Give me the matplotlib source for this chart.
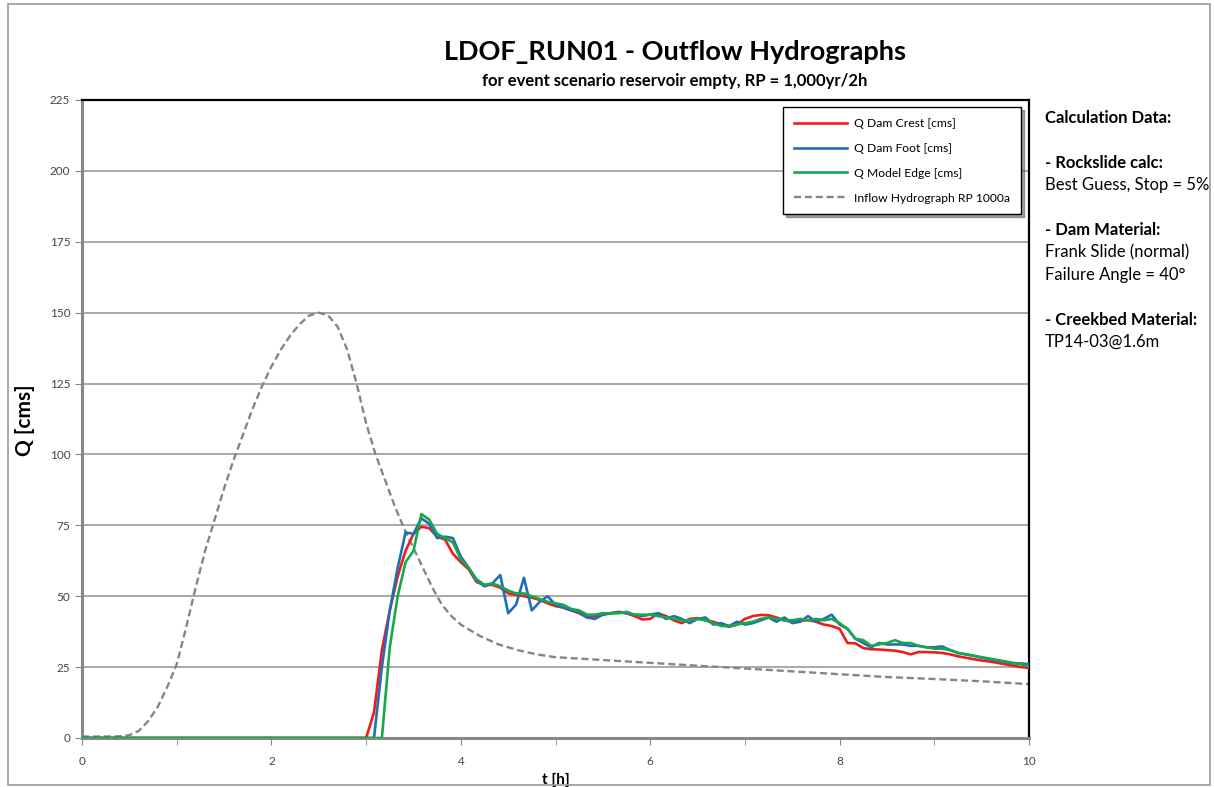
import numpy as np
import matplotlib
matplotlib.use("Agg")
import matplotlib.pyplot as plt
from matplotlib.patches import Rectangle

# inflow hydrograph RP 1000a
t_in = [0, 0.2, 0.4, 0.5, 0.6, 0.7, 0.8, 0.9, 1.0, 1.1, 1.2, 1.3, 1.4, 1.5, 1.6,
        1.7, 1.8, 1.9, 2.0, 2.1, 2.2, 2.3, 2.4, 2.5, 2.6, 2.7, 2.8, 2.9, 3.0,
        3.1, 3.2, 3.3, 3.4, 3.5, 3.6, 3.7, 3.8, 3.9, 4.0, 4.2, 4.4, 4.6, 4.8,
        5.0, 5.5, 6.0, 6.5, 7.0, 7.5, 8.0, 8.5, 9.0, 9.5, 10.0]
q_in = [0.5, 0.5, 0.6, 1, 2.5, 6, 11, 18, 26, 39, 53, 66, 77, 88, 98,
        107, 116, 124, 131, 137, 142, 146, 149, 150, 149, 145, 137, 125, 111,
        100, 91, 82, 74, 67, 60, 53, 47, 43, 40, 36, 33, 31, 29.5,
        28.5, 27.5, 26.5, 25.5, 24.5, 23.5, 22.5, 21.5, 20.8, 20, 19]

# outflow series, t = 0 then 3.0 h .. 10.0 h every 5 min
t_out = np.concatenate([[0.0], 3.0 + np.arange(85) / 12.0])

q_crest = [0,
           0, 9, 31, 45, 57, 66, 72, 74.5, 74, 71, 70, 65,
           62, 59.5, 55, 54, 54, 53, 51, 50.5, 50, 49.5, 48.7, 47.5,
           46.5, 46, 45, 44, 42.5, 43, 43.5, 44, 44.5, 44, 43, 41.8,
           42, 44, 43, 41.5, 40.5, 42, 42.3, 41.5, 41, 40, 39.2, 40,
           42, 43, 43.4, 43.3, 42.5, 41.5, 41, 41.3, 41.6, 41, 40, 39.5,
           38.5, 33.5, 33.4, 31.7, 31.3, 31.2, 31, 30.8, 30.3, 29.5, 30.3, 30.3,
           30.2, 30, 29.5, 28.8, 28.3, 27.8, 27.3, 27, 26.5, 26, 25.5, 25,
           24.7]

q_foot = [0,
          0, 0, 25, 45, 60, 72.5, 72, 77.5, 75.5, 70.5, 71, 70.5,
          64, 60, 55.5, 53.5, 54.5, 57.5, 44, 47, 56.5, 45, 48, 50,
          47, 46, 45, 44.5, 42.5, 42, 43.5, 44, 44.3, 44, 43.5, 43,
          43.5, 44, 42, 43, 42, 40.5, 42, 42.5, 40, 40.5, 39.5, 41,
          40, 40.5, 41.5, 42.5, 41, 42.5, 40.5, 41, 43, 41, 42, 43.5,
          40, 38.5, 35, 33.5, 32, 33.5, 33, 33, 33, 32.5, 32.5, 32,
          32, 32.3, 31, 30, 29.5, 29, 28.3, 27.8, 27.3, 26.8, 26.3, 26.3,
          26]

q_edge = [0,
          0, 0, 0, 32, 50, 62, 66, 79, 77, 72, 70.5, 69,
          63, 60, 56, 54, 54.5, 53.5, 52, 51, 51, 50, 49, 48,
          47.5, 47, 45.5, 45, 43.5, 43.5, 44, 44, 44, 44.5, 43.5, 43.5,
          43.5, 43, 42.5, 42, 41.5, 41.5, 42, 41.5, 40.5, 39.5, 39.5, 40,
          40.5, 41, 42, 42.5, 42, 41.5, 41.5, 42, 41.5, 42, 41.5, 42,
          40.5, 38.5, 35, 34.5, 32.5, 33, 33.5, 34.5, 33.5, 33.5, 32.5, 32,
          31.5, 31.5, 31, 30, 29.5, 29, 28.5, 28, 27.5, 27, 26.5, 26,
          25.3]

info_lines = [
    ("Calculation Data:", True),
    ("", False),
    ("- Rockslide calc:", True),
    ("Best Guess, Stop = 5%", False),
    ("", False),
    ("- Dam Material:", True),
    ("Frank Slide (normal)", False),
    ("Failure Angle = 40°", False),
    ("", False),
    ("- Creekbed Material:", True),
    ("TP14-03@1.6m", False),
]

plt.rcParams['font.family'] = ['Lato', 'DejaVu Sans']

W, H = 1214, 787
fig = plt.figure(figsize=(W / 100, H / 100), dpi=100)
ax = fig.add_axes([82 / W, 1 - 738 / H, (1029 - 82) / W, (738 - 100) / H])

ax.plot(t_out, q_crest, color='#ee1c1c', lw=1.9, label='Q Dam Crest [cms]', zorder=3)
ax.plot(t_out, q_foot, color='#1f6fb8', lw=1.9, label='Q Dam Foot [cms]', zorder=4)
ax.plot(t_out, q_edge, color='#16a84a', lw=1.9, label='Q Model Edge [cms]', zorder=5)
ax.plot(t_in, q_in, color='#858585', lw=1.7, ls=(0, (3, 1.6)),
        label='Inflow Hydrograph RP 1000a', zorder=2)

ax.set_xlim(0, 10)
ax.set_ylim(0, 225)
ax.set_xticks(range(0, 11, 2))
ax.set_xticks(range(1, 10, 2), minor=True)
ax.set_yticks(range(0, 226, 25))
ax.yaxis.grid(True, color='#999999', lw=1.2)
ax.set_axisbelow(True)
ax.tick_params(axis='both', which='both', direction='out', length=5,
               color='#888888', labelsize=8.5, labelcolor='#444444')
ax.tick_params(axis='x', pad=8)
for s in ('left', 'bottom'):
    ax.spines[s].set_color('#888888')
    ax.spines[s].set_linewidth(2.2)
for s in ('top', 'right'):
    ax.spines[s].set_color('black')
    ax.spines[s].set_linewidth(1.6)

fig.text(25 / W, 1 - 420 / H, 'Q [cms]', rotation=90, ha='center', va='center',
         fontsize=15, fontweight='bold')
ax.set_xlabel('t [h]', fontsize=11, fontweight='bold', labelpad=4)

leg = ax.legend(loc='upper right', bbox_to_anchor=(1021 / W, 1 - 107 / H),
                bbox_transform=fig.transFigure, fontsize=8.7, frameon=True,
                fancybox=False, shadow=True, handlelength=4.4,
                borderpad=0.9, labelspacing=1.15, handletextpad=0.6,
                borderaxespad=0)
leg.get_frame().set_edgecolor('black')
leg.get_frame().set_linewidth(1.0)

fig.text(675 / W, 1 - 52 / H, 'LDOF_RUN01 - Outflow Hydrographs',
         ha='center', va='center', fontsize=19.5, fontweight='bold')
fig.text(675 / W, 1 - 81 / H, 'for event scenario reservoir empty, RP = 1,000yr/2h',
         ha='center', va='center', fontsize=12, fontweight='bold')

y = 118
for txt, bold in info_lines:
    if txt:
        fig.text(1045 / W, 1 - y / H, txt, ha='left', va='center',
                 fontsize=12, fontweight='bold' if bold else 'normal')
    y += 22.4

fig.patches.append(Rectangle((8 / W, 2 / H), 1202 / W, 781 / H, transform=fig.transFigure,
                             fill=False, edgecolor='#999999', lw=1.2))

fig.savefig('out.png', dpi=100)
